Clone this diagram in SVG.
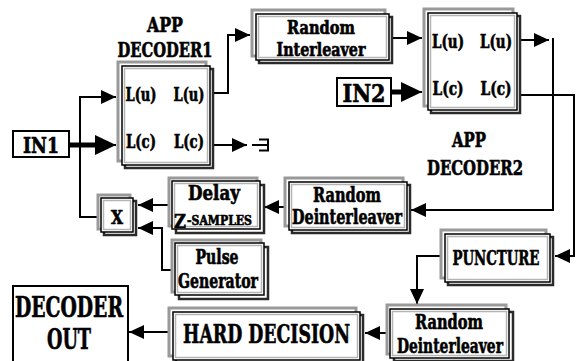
<svg xmlns="http://www.w3.org/2000/svg" width="577" height="361" viewBox="0 0 577 361">
<style>
text{font-family:"DejaVu Serif","Liberation Serif",serif;font-weight:bold;font-stretch:condensed;fill:#000;stroke:#000;stroke-width:0.6;text-anchor:middle}
.g{fill:none;stroke:#999;stroke-width:3}
.d{fill:none;stroke:#2a2a2a;stroke-width:2.5}
.m{fill:#fff;stroke:#000;stroke-width:1.5}
.i{fill:none;stroke:#b5b5b5;stroke-width:1.5}
.plain{fill:#fff;stroke:#000;stroke-width:2}
.c{fill:none;stroke:#000;stroke-width:2}
.ct{fill:none;stroke:#000;stroke-width:5}
</style>
<defs>
<marker id="a" markerUnits="userSpaceOnUse" markerWidth="16" markerHeight="14" refX="15" refY="7" orient="auto"><path d="M0,0 L15,7 L0,14 z" fill="#000"/></marker>
<marker id="ab" markerUnits="userSpaceOnUse" markerWidth="22" markerHeight="20" refX="21" refY="10" orient="auto"><path d="M0,0 L21,10 L0,20 z" fill="#000"/></marker>
</defs>
<rect width="577" height="361" fill="#fff"/>

<g id="connectors">
<path class="ct" d="M69,145 H98"/>
<path class="c" d="M96,145 H116" marker-end="url(#ab)"/>
<path class="c" d="M99,217 H80 V97 H116" marker-end="url(#a)"/>
<path class="c" d="M213,93 H228 V35 H250" marker-end="url(#a)"/>
<path class="c" d="M213,145 H247" marker-end="url(#a)"/>
<path class="c" d="M252,145 H268 M259,139.5 H268 V150.5 H259"/>
<path class="c" d="M391,38 H422" marker-end="url(#a)"/>
<path class="ct" d="M391,92 H404"/>
<path class="c" d="M402,92 H422" marker-end="url(#ab)"/>
<path class="c" d="M520,40 H549" marker-end="url(#a)"/>
<path class="c" d="M553,38 V210 H411" marker-end="url(#a)"/>
<path class="c" d="M520,95 H574 V256 H555" marker-end="url(#a)"/>
<path class="c" d="M285,207 H264" marker-end="url(#a)"/>
<path class="c" d="M168,205 H138" marker-end="url(#a)"/>
<path class="c" d="M172,270 H162 V228 H138" marker-end="url(#a)"/>
<path class="c" d="M441,256 H417 V304" marker-end="url(#a)"/>
<path class="c" d="M386,333 H365" marker-end="url(#a)"/>
<path class="c" d="M168,332 H129" marker-end="url(#a)"/>
</g>

<g id="in1">
<rect class="plain" x="13" y="131" width="56" height="26"/>
<text x="41" y="153" font-size="22" textLength="36" lengthAdjust="spacingAndGlyphs">IN1</text>
</g>

<g id="decoder1">
<rect class="g" x="118" y="62" width="88" height="99"/>
<rect class="d" x="125" y="69" width="88" height="99"/>
<rect class="m" x="122" y="66" width="88" height="99"/>
<rect class="i" x="124.5" y="68.5" width="83" height="94"/>
<text x="165" y="32" font-size="21" textLength="36" lengthAdjust="spacingAndGlyphs">APP</text>
<text x="165" y="57" font-size="21" textLength="95" lengthAdjust="spacingAndGlyphs">DECODER1</text>
<text x="141" y="101" font-size="18" textLength="31" lengthAdjust="spacingAndGlyphs">L(u)</text>
<text x="189" y="101" font-size="18" textLength="31" lengthAdjust="spacingAndGlyphs">L(u)</text>
<text x="141" y="148" font-size="18" textLength="30" lengthAdjust="spacingAndGlyphs">L(c)</text>
<text x="189" y="148" font-size="18" textLength="30" lengthAdjust="spacingAndGlyphs">L(c)</text>
</g>

<g id="interleaver">
<rect class="g" x="252" y="10" width="133" height="46"/>
<rect class="d" x="259" y="17" width="133" height="46"/>
<rect class="m" x="256" y="14" width="133" height="46"/>
<rect class="i" x="258.5" y="16.5" width="128" height="41"/>
<text x="321" y="34" font-size="18" textLength="68" lengthAdjust="spacingAndGlyphs">Random</text>
<text x="321" y="56" font-size="18" textLength="89" lengthAdjust="spacingAndGlyphs">Interleaver</text>
</g>

<g id="in2">
<rect class="plain" x="337" y="78" width="54" height="28"/>
<text x="364" y="102" font-size="25" textLength="43" lengthAdjust="spacingAndGlyphs">IN2</text>
</g>

<g id="decoder2">
<rect class="g" x="424" y="9" width="89" height="97"/>
<rect class="d" x="431" y="16" width="89" height="97"/>
<rect class="m" x="428" y="13" width="89" height="97"/>
<rect class="i" x="430.5" y="15.5" width="84" height="92"/>
<text x="469" y="147" font-size="21" textLength="34" lengthAdjust="spacingAndGlyphs">APP</text>
<text x="475" y="175" font-size="21" textLength="96" lengthAdjust="spacingAndGlyphs">DECODER2</text>
<text x="448" y="48" font-size="18" textLength="32" lengthAdjust="spacingAndGlyphs">L(u)</text>
<text x="496" y="48" font-size="18" textLength="32" lengthAdjust="spacingAndGlyphs">L(u)</text>
<text x="448" y="95" font-size="18" textLength="31" lengthAdjust="spacingAndGlyphs">L(c)</text>
<text x="496" y="95" font-size="18" textLength="31" lengthAdjust="spacingAndGlyphs">L(c)</text>
</g>

<g id="deinterleaver1">
<rect class="g" x="285" y="178" width="118" height="48"/>
<rect class="d" x="292" y="185" width="118" height="48"/>
<rect class="m" x="289" y="182" width="118" height="48"/>
<rect class="i" x="291.5" y="184.5" width="113" height="43"/>
<text x="347" y="202" font-size="20" textLength="68" lengthAdjust="spacingAndGlyphs">Random</text>
<text x="347" y="224" font-size="20" textLength="110" lengthAdjust="spacingAndGlyphs">Deinterleaver</text>
</g>

<g id="delay">
<rect class="g" x="169" y="178" width="88" height="48"/>
<rect class="d" x="176" y="185" width="88" height="48"/>
<rect class="m" x="172" y="181" width="88" height="48"/>
<rect class="i" x="174.5" y="183.5" width="83" height="43"/>
<text x="214" y="200" font-size="21" textLength="52" lengthAdjust="spacingAndGlyphs">Delay</text>
<text x="180" y="228" font-size="19" textLength="12" lengthAdjust="spacingAndGlyphs">Z</text>
<text x="219.5" y="225" font-size="13" textLength="65" lengthAdjust="spacingAndGlyphs">-SAMPLES</text>
</g>

<g id="multiplier">
<rect class="g" x="98" y="195" width="32" height="34"/>
<rect class="d" x="104" y="201" width="32" height="34"/>
<rect class="m" x="101" y="198" width="32" height="34"/>
<rect class="i" x="103.5" y="200.5" width="27" height="29"/>
<text x="117" y="224" font-size="18" textLength="12" lengthAdjust="spacingAndGlyphs">X</text>
</g>

<g id="pulse">
<rect class="g" x="172" y="240" width="89" height="52"/>
<rect class="d" x="179" y="247" width="89" height="52"/>
<rect class="m" x="175" y="243" width="89" height="52"/>
<rect class="i" x="177.5" y="245.5" width="84" height="47"/>
<text x="217" y="264" font-size="20" textLength="43" lengthAdjust="spacingAndGlyphs">Pulse</text>
<text x="218" y="288" font-size="20" textLength="80" lengthAdjust="spacingAndGlyphs">Generator</text>
</g>

<g id="decoder_out">
<rect class="plain" x="13" y="286" width="115" height="85"/>
<text x="69" y="317" font-size="28" textLength="108" lengthAdjust="spacingAndGlyphs">DECODER</text>
<text x="69" y="349" font-size="28" textLength="44" lengthAdjust="spacingAndGlyphs">OUT</text>
</g>

<g id="hard_decision">
<rect class="g" x="169" y="308" width="187" height="48"/>
<rect class="d" x="176" y="315" width="187" height="48"/>
<rect class="m" x="173" y="312" width="187" height="48"/>
<rect class="i" x="175.5" y="314.5" width="182" height="43"/>
<text x="266.5" y="343" font-size="26" textLength="167" lengthAdjust="spacingAndGlyphs">HARD DECISION</text>
</g>

<g id="puncture">
<rect class="g" x="441" y="230" width="105" height="48"/>
<rect class="d" x="448" y="237" width="105" height="48"/>
<rect class="m" x="445" y="234" width="105" height="48"/>
<rect class="i" x="447.5" y="236.5" width="100" height="43"/>
<text x="496" y="265" font-size="21" textLength="87" lengthAdjust="spacingAndGlyphs">PUNCTURE</text>
</g>

<g id="deinterleaver2">
<rect class="g" x="387" y="305" width="119" height="49"/>
<rect class="d" x="394" y="312" width="119" height="49"/>
<rect class="m" x="390" y="309" width="119" height="49"/>
<rect class="i" x="392.5" y="311.5" width="114" height="44"/>
<text x="449" y="329" font-size="20" textLength="68" lengthAdjust="spacingAndGlyphs">Random</text>
<text x="450" y="353" font-size="20" textLength="106" lengthAdjust="spacingAndGlyphs">Deinterleaver</text>
</g>
</svg>
